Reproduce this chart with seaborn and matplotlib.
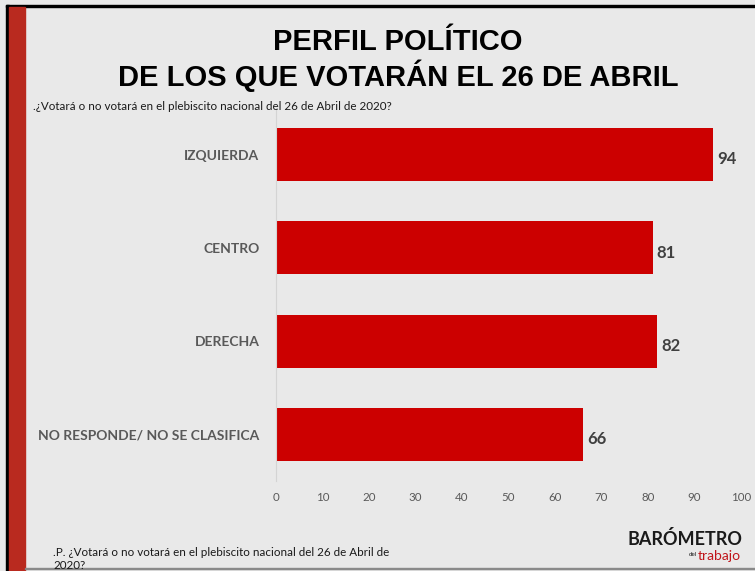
import matplotlib

matplotlib.use("Agg")
import matplotlib.pyplot as plt
import pandas as pd
import seaborn as sns
from matplotlib.patches import Rectangle

categories = ["IZQUIERDA", "CENTRO", "DERECHA", "NO RESPONDE/ NO SE CLASIFICA"]
values = [94, 81, 82, 66]
x_ticks = [0, 10, 20, 30, 40, 50, 60, 70, 80, 90, 100]

title = "PERFIL POLÍTICO\nDE LOS QUE VOTARÁN EL 26 DE ABRIL"
subtitle = ".¿Votará o no votará en el plebiscito nacional del 26 de Abril de 2020?"
footnote = ".P. ¿Votará o no votará en el plebiscito nacional del 26 de Abril de\n2020?"

BG = "#e9e9e9"
BAR_RED = "#cc0000"
STRIPE_RED = "#b92a1f"
GRAY_TEXT = "#595959"

sns.set_theme(style="white")
plt.rcParams["font.family"] = ["Lato", "DejaVu Sans"]

df = pd.DataFrame({"categoria": categories, "valor": values})

fig = plt.figure(figsize=(7.55, 5.71), dpi=100, facecolor=BG)
ax = fig.add_axes([0.3656, 0.1576, 0.6159, 0.6533])
ax.set_facecolor(BG)

sns.barplot(
    data=df,
    x="valor",
    y="categoria",
    orient="h",
    color=BAR_RED,
    saturation=1,
    width=0.57,
    linewidth=0,
    ax=ax,
)

for i, v in enumerate(values):
    ax.text(v + 0.9, i + 0.05, str(v), va="center", ha="left",
            fontsize=12, fontweight="bold", color="#404040")

ax.set_xlim(0, 100)
ax.set_xticks(x_ticks)
ax.set_xticklabels([str(t) for t in x_ticks], fontsize=8.3, color=GRAY_TEXT)
ax.tick_params(axis="x", length=0, pad=8)
ax.tick_params(axis="y", length=0, pad=12)
for lbl in ax.get_yticklabels():
    lbl.set_fontsize(10)
    lbl.set_fontweight("bold")
    lbl.set_color(GRAY_TEXT)
ax.set_xlabel("")
ax.set_ylabel("")
for side in ["top", "right", "bottom"]:
    ax.spines[side].set_visible(False)
ax.spines["left"].set_color("#d4d4d4")
ax.spines["left"].set_linewidth(0.8)

# frame and left stripe
W, H = 755, 571
fig.patches.append(Rectangle((6 / W, 0), 3 / W, 1 - 5 / H, transform=fig.transFigure,
                             color="black", zorder=0))
fig.patches.append(Rectangle((6 / W, 1 - 7 / H), 1 - 6 / W, 2 / H, transform=fig.transFigure,
                             color="black", zorder=0))
fig.patches.append(Rectangle((9 / W, 0), 16 / W, 1 - 7 / H, transform=fig.transFigure,
                             color=STRIPE_RED, zorder=0))
fig.patches.append(Rectangle((25 / W, 2 / H), 1 - 25 / W, 1.2 / H, transform=fig.transFigure,
                             color="#8a8a8a", zorder=0))

fig.text(398 / W, 1 - 60 / H, title, ha="center", va="center", fontsize=21,
         fontweight="bold", family=["Liberation Sans", "DejaVu Sans"],
         color="black", linespacing=1.15)
fig.text(33 / W, 1 - 107 / H, subtitle, ha="left", va="center", fontsize=8.4,
         color="#1a1a1a")
fig.text(53 / W, 1 - 559 / H, footnote, ha="left", va="center", fontsize=8.4,
         color="#1a1a1a", linespacing=1.25)

# logo
fig.text(742 / W, 1 - 539 / H, "BARÓMETRO", ha="right", va="center", fontsize=13,
         fontweight="bold", family=["Liberation Sans Narrow", "Lato"],
         color="#1a1a1a")
fig.text(741 / W, 1 - 556 / H, "trabajo", ha="right", va="center", fontsize=10,
         family=["Liberation Sans Narrow", "Lato"], color="#c0141a")
fig.text(697 / W, 1 - 554 / H, "del", ha="right", va="center", fontsize=4.5,
         color="#1a1a1a")

fig.savefig("out.png", dpi=100, facecolor=BG)
